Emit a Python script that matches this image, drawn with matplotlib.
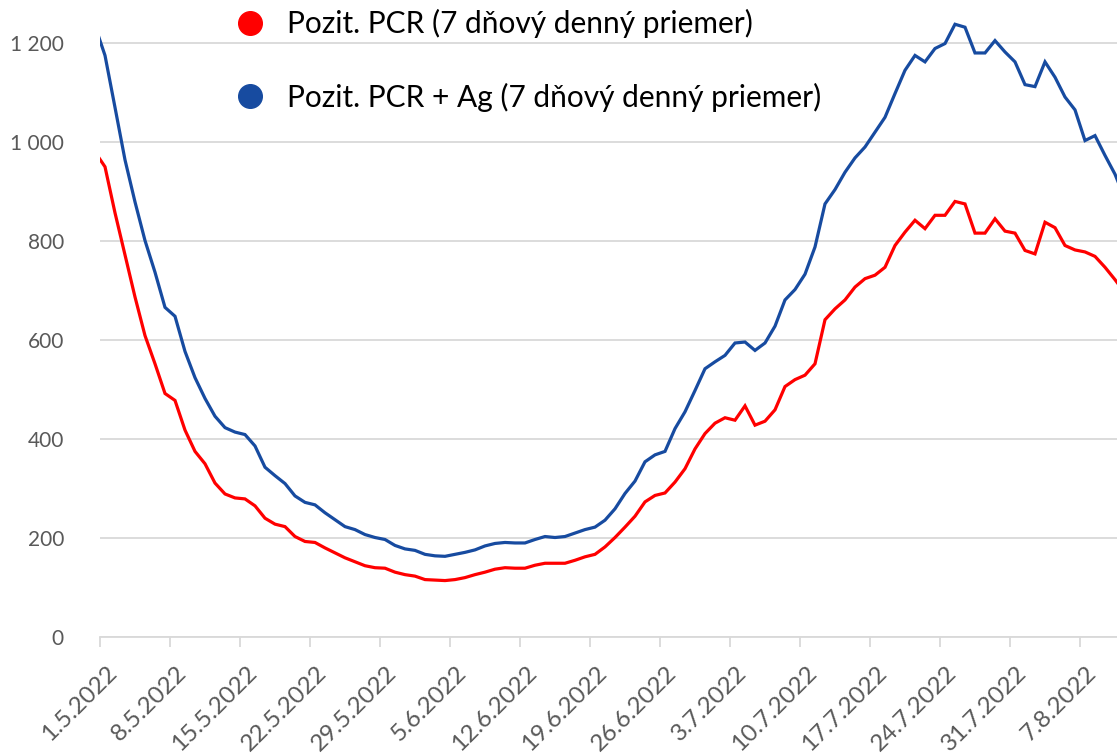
import matplotlib.pyplot as plt
import matplotlib.transforms as mtransforms
from matplotlib.lines import Line2D
import pandas as pd

# daily values, 30.4.2022 .. 11.8.2022
start_date = "2022-04-30"
end_date = "2022-08-11"

pcr = [
    980, 950, 857, 772, 687, 609, 552, 492, 478, 418,
    375, 350, 311, 289, 281, 279, 265, 240, 228, 223,
    203, 193, 191, 180, 170, 160, 152, 144, 140, 139,
    131, 126, 123, 116, 115, 114, 116, 120, 126, 131,
    137, 140, 139, 139, 145, 149, 149, 149, 155, 162,
    167, 182, 201, 222, 244, 273, 286, 291, 313, 340,
    380, 411, 432, 443, 438, 467, 428, 436, 459, 506,
    520, 529, 552, 641, 663, 681, 707, 724, 731, 747,
    791, 818, 842, 825, 852, 852, 880, 875, 816, 816,
    845, 820, 816, 781, 774, 838, 827, 791, 782, 778,
    769, 747, 722, 695,
]

pcr_ag = [
    1235, 1175, 1070, 964, 879, 801, 737, 666, 648, 577,
    524, 482, 446, 423, 414, 409, 386, 343, 326, 310,
    285, 272, 267, 251, 237, 223, 217, 207, 201, 197,
    185, 178, 175, 167, 164, 163, 167, 171, 176, 184,
    189, 191, 190, 190, 197, 203, 201, 203, 210, 217,
    222, 236, 259, 290, 315, 354, 368, 375, 421, 455,
    498, 542, 556, 569, 594, 596, 579, 594, 628, 681,
    702, 733, 788, 875, 904, 939, 968, 990, 1020, 1050,
    1098, 1145, 1175, 1162, 1189, 1199, 1238, 1232, 1180, 1180,
    1205, 1182, 1162, 1116, 1112, 1162, 1131, 1091, 1065, 1003,
    1013, 973, 935, 885,
]

labels = [
    "Pozit. PCR (7 dňový denný priemer)",
    "Pozit. PCR + Ag (7 dňový denný priemer)",
]
colors = ["#ff0000", "#174ba0"]

y_ticks = [0, 200, 400, 600, 800, 1000, 1200]

dates = pd.date_range(start_date, end_date, freq="D")
# points sit in the middle of each day
x = dates + pd.Timedelta(hours=12)
week_ticks = pd.date_range("2022-05-01", "2022-08-07", freq="7D")

plt.rcParams["font.family"] = ["Lato", "DejaVu Sans"]

fig = plt.figure(figsize=(11.17, 7.56), dpi=100)
ax = fig.add_axes([100 / 1117, 119 / 756, 1017 / 1117, 637 / 756])

ax.plot(x, pcr, color=colors[0], lw=2.3, solid_joinstyle="miter")
ax.plot(x, pcr_ag, color=colors[1], lw=2.3, solid_joinstyle="miter")

x0 = pd.Timestamp("2022-05-01")
ax.set_xlim(x0, x0 + pd.Timedelta(days=101.7))
ax.set_ylim(0, 1287)

ax.set_yticks(y_ticks)
ax.set_yticklabels([f"{v:,}".replace(",", " ") for v in y_ticks])
ax.set_xticks(week_ticks)
ax.set_xticklabels([f"{d.day}.{d.month}.{d.year}" for d in week_ticks])

ax.grid(axis="y", color="#d9d9d9", lw=1.3)
ax.set_axisbelow(True)
for side in ["top", "right", "left"]:
    ax.spines[side].set_visible(False)
ax.spines["bottom"].set_color("#d9d9d9")
ax.spines["bottom"].set_linewidth(1.3)

ax.tick_params(axis="y", length=0, pad=26, labelsize=15, labelcolor="#595959")
ax.tick_params(axis="x", length=7, width=1.3, color="#d9d9d9", pad=11,
               labelsize=17.5, labelcolor="#595959")
shift = mtransforms.ScaledTranslation(6 / 100, 0, fig.dpi_scale_trans)
for lbl in ax.get_xticklabels():
    lbl.set_rotation(45)
    lbl.set_ha("right")
    lbl.set_va("top")
    lbl.set_rotation_mode("anchor")
    lbl.set_transform(lbl.get_transform() + shift)

handles = [
    Line2D([], [], ls="", marker="o", markersize=17, color=c) for c in colors
]
fig.legend(
    handles, labels,
    loc="upper left",
    bbox_to_anchor=(220 / 1117, 1.0 + 6 / 756),
    frameon=False,
    fontsize=21.5,
    handlelength=1.0,
    handletextpad=0.74,
    labelspacing=1.49,
    borderpad=0,
)

fig.savefig("out.png", dpi=100)
